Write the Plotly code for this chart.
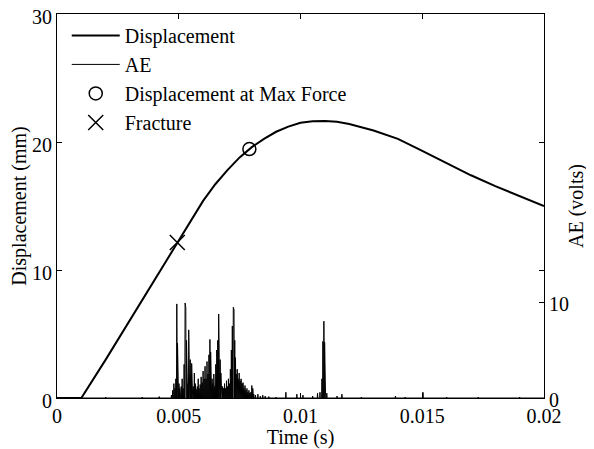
import plotly.graph_objects as go

# Displacement curve
disp_t = [0, 0.001, 0.002, 0.003, 0.004, 0.005, 0.0055, 0.006, 0.0065, 0.007, 0.0075,
          0.008, 0.0085, 0.009, 0.0095, 0.010, 0.0105, 0.011, 0.0115, 0.012, 0.013,
          0.014, 0.015, 0.016, 0.017, 0.018, 0.019, 0.020]
disp_mm = [0, 0, 3.0, 6.1, 9.2, 12.3, 13.9, 15.4, 16.7, 17.8, 18.8,
           19.6, 20.25, 20.8, 21.2, 21.5, 21.62, 21.65, 21.58, 21.4, 20.9,
           20.25, 19.3, 18.35, 17.4, 16.55, 15.8, 15.0]

# AE bursts (time, peak volts)
ae_t = [0.0005, 0.0020, 0.0035, 0.0042, 0.00470, 0.00475, 0.00480, 0.00484, 0.00488, 0.00492,
        0.00495, 0.00498, 0.00501, 0.00504, 0.00507, 0.00510, 0.00514, 0.00518,
        0.00522, 0.00526, 0.00529, 0.00532, 0.00535, 0.00538, 0.00541, 0.00544,
        0.00547, 0.00550, 0.00553, 0.00556, 0.00560, 0.00564, 0.00568, 0.00572,
        0.00576, 0.00580, 0.00584, 0.00588, 0.00592, 0.00596, 0.00600, 0.00604,
        0.00608, 0.00612, 0.00616, 0.00620, 0.00624, 0.00628, 0.00631, 0.00634,
        0.00637, 0.00640, 0.00644, 0.00648, 0.00652, 0.00656, 0.00660, 0.00664,
        0.00667, 0.00670, 0.00673, 0.00676, 0.00680, 0.00684, 0.00688, 0.00692,
        0.00696, 0.00700, 0.00704, 0.00708, 0.00712, 0.00716, 0.00720, 0.00724,
        0.00727, 0.00730, 0.00733, 0.00736, 0.00740, 0.00744, 0.00748, 0.00752,
        0.00756, 0.00760, 0.00764, 0.00768, 0.00772, 0.00776, 0.00780, 0.00784,
        0.00788, 0.00792, 0.00796, 0.00800, 0.00804, 0.00808, 0.00815, 0.00825,
        0.00835, 0.00845, 0.00855, 0.00870, 0.00900, 0.00940, 0.00985, 0.01010,
        0.01050, 0.01070, 0.01080, 0.01088, 0.01092, 0.01096, 0.01099, 0.01102,
        0.01108, 0.01150, 0.01170, 0.01250, 0.01390, 0.01430, 0.01503, 0.01600,
        0.01730, 0.01900]
ae_v = [0.1, 0.1, 0.1, 0.15, 0.3, 0.8, 1.5, 1.0, 2.0, 9.8,
        5.7, 3.0, 1.5, 1.0, 0.8, 1.2, 2.0, 1.0,
        3.5, 9.9, 9.4, 6.0, 3.0, 1.5, 7.1, 5.4,
        4.0, 2.5, 3.6, 1.8, 1.2, 2.6, 1.5, 0.9,
        1.2, 2.0, 1.0, 1.4, 2.2, 1.6, 2.8, 2.0,
        3.3, 2.0, 3.8, 2.5, 4.5, 6.1, 4.8, 3.0,
        2.0, 1.5, 2.5, 1.2, 3.5, 5.0, 6.0, 8.75,
        6.7, 4.0, 2.6, 1.8, 1.2, 1.0, 1.5, 1.0,
        1.8, 1.2, 2.0, 1.5, 3.0, 5.0, 7.5, 9.45,
        9.2, 6.0, 4.2, 2.5, 3.0, 2.0, 2.6, 1.8,
        2.0, 1.5, 1.6, 1.0, 1.3, 0.8, 1.0, 0.6,
        0.8, 0.5, 0.6, 1.3, 1.0, 0.4, 0.3, 0.4,
        0.2, 0.3, 0.2, 0.15, 0.1, 0.6, 0.4, 0.3,
        0.2, 0.5, 0.6, 2.0, 5.9, 8.0, 5.8, 2.0,
        0.5, 0.2, 0.4, 0.1, 0.2, 0.1, 0.6, 0.1,
        0.1, 0.1]

max_force_t, max_force_mm = [0.0079], [19.45]
fracture_t, fracture_mm = [0.00494], [12.15]

x_ticks = [0, 0.005, 0.01, 0.015, 0.02]
x_labels = ["0", "0.005", "0.01", "0.015", "0.02"]
y_ticks = [0, 10, 20, 30]
y2_ticks = [0, 10]

# Build AE trace as vertical strokes from the baseline
ae_x, ae_y = [0.0], [0.0]
for t, v in zip(ae_t, ae_v):
    ae_x += [t - 0.000012, t, t + 0.000012]
    ae_y += [0.0, v, 0.0]
ae_x.append(0.02)
ae_y.append(0.0)

FONT = "Liberation Serif"
FS = 20
fig = go.Figure()
fig.add_trace(go.Scatter(x=disp_t, y=disp_mm, mode="lines", name="Displacement",
                         line=dict(color="black", width=2)))
fig.add_trace(go.Scatter(x=ae_x, y=ae_y, mode="lines", name="AE", yaxis="y2",
                         line=dict(color="black", width=1)))
fig.add_trace(go.Scatter(x=max_force_t, y=max_force_mm, mode="markers",
                         name="Displacement at Max Force",
                         marker=dict(symbol="circle-open", size=13, color="black",
                                     line=dict(width=1.5))))
fig.add_trace(go.Scatter(x=fracture_t, y=fracture_mm, mode="markers", name="Fracture",
                         marker=dict(symbol="x-thin-open", size=15, color="black",
                                     line=dict(width=1.5, color="black"))))

axis_common = dict(showline=True, linecolor="black", linewidth=1, ticks="inside",
                   ticklen=5, tickcolor="black", showgrid=False, zeroline=False,
                   automargin=False, ticklabeloverflow="allow",
                   tickfont=dict(family=FONT, size=FS, color="black"))
# page body has an 8px default margin, so the figure is sized/offset to compensate
fig.update_layout(
    width=586, height=441,
    margin=dict(l=49, r=50, t=6, b=51),
    paper_bgcolor="white", plot_bgcolor="white",
    font=dict(family=FONT, size=FS, color="black"),
    showlegend=True,
    legend=dict(x=0.02, y=0.995, xanchor="left", yanchor="top",
                bgcolor="rgba(0,0,0,0)", borderwidth=0, itemwidth=48,
                font=dict(family=FONT, size=FS), tracegroupgap=0),
    xaxis=dict(range=[0, 0.02], tickvals=x_ticks, ticktext=x_labels, mirror="ticks",
               title=dict(text="Time (s)", font=dict(family=FONT, size=FS), standoff=6),
               **axis_common),
    yaxis=dict(range=[0, 30], tickvals=y_ticks, mirror="ticks", ticklabelshift=3,
               title=dict(text="Displacement (mm)", font=dict(family=FONT, size=FS), standoff=6),
               **axis_common),
    yaxis2=dict(range=[0, 40], tickvals=y2_ticks, overlaying="y", side="right",
                ticklabelshift=2,
                title=dict(text="AE (volts)", font=dict(family=FONT, size=FS), standoff=0),
                **axis_common),
)

fig.write_html("out.html")
